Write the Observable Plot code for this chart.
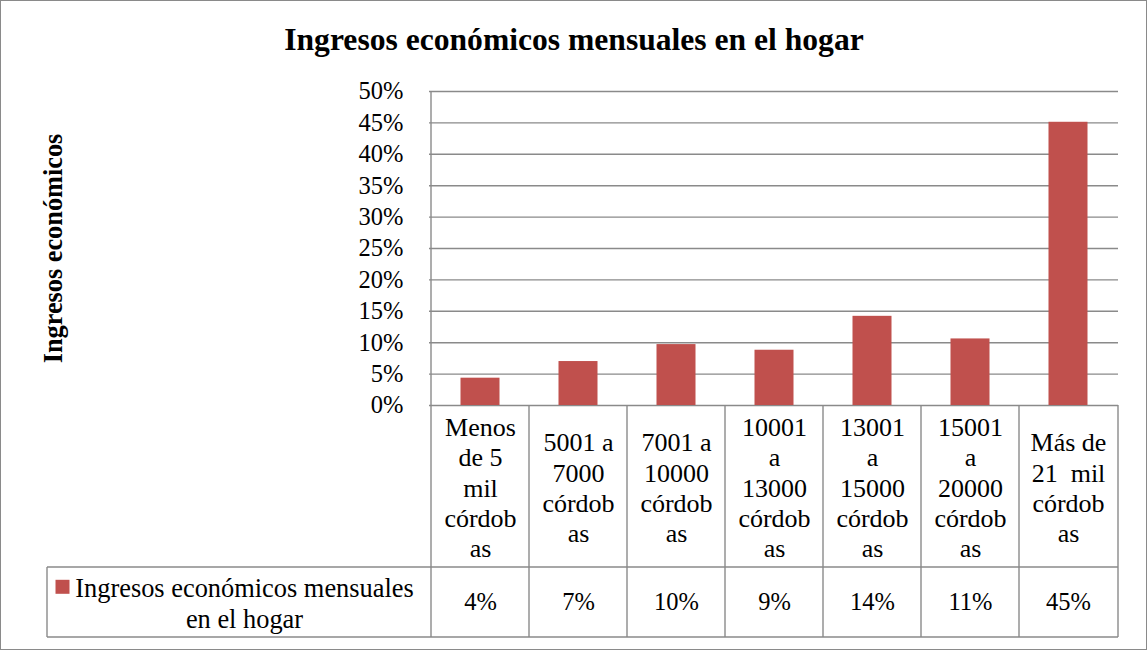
<!DOCTYPE html>
<html>
<head>
<meta charset="utf-8">
<script src="https://cdn.jsdelivr.net/npm/d3@7"></script>
<script src="https://cdn.jsdelivr.net/npm/@observablehq/plot@0.6"></script>
<style>
  html, body { margin: 0; padding: 0; background: #fff; }
  #page { position: relative; width: 1148px; height: 651px; overflow: hidden; background: #fff; }
  #border { position: absolute; left: 0; top: 0; width: 1145px; height: 648px; border: 1.5px solid #8a8a8a; pointer-events: none; }
  #title { position: absolute; left: 0; top: 24px; width: 1148px; text-align: center;
    font-family: "Liberation Serif", "Times New Roman", serif; font-weight: bold; font-size: 31.6px; line-height: 1; color: #000; }
  #chart { position: absolute; left: 0; top: 70px; }
  #chart svg text { white-space: pre; }
</style>
</head>
<body>
<div id="page">
  <div id="title">Ingresos económicos mensuales en el hogar</div>
  <div id="chart"></div>
  <div id="border"></div>
</div>
<script>
const categories = [
  "Menos\nde 5\nmil\ncórdob\nas",
  "5001 a\n7000\ncórdob\nas",
  "7001 a\n10000\ncórdob\nas",
  "10001\na\n13000\ncórdob\nas",
  "13001\na\n15000\ncórdob\nas",
  "15001\na\n20000\ncórdob\nas",
  "Más de\n21  mil\ncórdob\nas"
];
const values = [4.35, 7.0, 9.7, 8.8, 14.2, 10.6, 45.1];
const valueLabels = ["4%", "7%", "10%", "9%", "14%", "11%", "45%"];
const yTicks = [0, 5, 10, 15, 20, 25, 30, 35, 40, 45, 50];
const seriesName = "Ingresos económicos mensuales\nen el hogar";
const yLabel = "Ingresos económicos";

const data = categories.map((c, i) => ({cat: c, value: values[i], label: valueLabels[i]}));

const serif = "'Liberation Serif', 'Times New Roman', serif";
const gray = "#8a8a8a";
const red = "#C0504D";

// custom mark: the left axis line and the data-table grid, positioned from the band scale
function tableGrid(index, scales, values_, dims) {
  const x = scales.x;
  const {width, height, marginRight, marginTop, marginBottom} = dims;
  const x1 = width - marginRight;
  const yAxis = height - marginBottom;       // 0% baseline
  const yRow1 = yAxis + 162;                 // bottom of category row
  const yRow2 = yAxis + 232;                 // bottom of value row
  const legendLeft = 47;
  const g = d3.create("svg:g").attr("stroke", gray).attr("stroke-width", 1.4).attr("fill", "none");
  const bounds = categories.map(c => x(c)).concat([x1]);
  bounds.forEach((b, i) => {
    g.append("line").attr("x1", b).attr("x2", b)
      .attr("y1", i === 0 ? marginTop : yAxis).attr("y2", yRow2);
  });
  g.append("line").attr("x1", legendLeft).attr("x2", x1).attr("y1", yRow1).attr("y2", yRow1);
  g.append("line").attr("x1", legendLeft).attr("x2", x1).attr("y1", yRow2).attr("y2", yRow2);
  g.append("line").attr("x1", legendLeft).attr("x2", legendLeft).attr("y1", yRow1).attr("y2", yRow2);
  return g.node();
}

const plot = Plot.plot({
  width: 1148,
  height: 581,
  marginLeft: 429,
  marginRight: 30,
  marginTop: 21,
  marginBottom: 246,
  style: {fontFamily: serif, color: "#000", background: "transparent", overflow: "visible"},
  x: {type: "band", domain: categories, padding: 0, axis: null},
  y: {domain: [0, 50], axis: null},
  marks: [
    Plot.ruleY(yTicks, {stroke: gray, strokeWidth: 1.4}),
    Plot.axisY(yTicks, {
      tickSize: 0, tickPadding: 26, tickFormat: d => d + "%",
      fontSize: 24.5, fontFamily: serif, fill: "#000", label: null
    }),
    Plot.barY(data, {x: "cat", y: "value", fill: red, insetLeft: 29.5, insetRight: 29.5}),
    tableGrid,
    Plot.text(data, {
      x: "cat", text: "cat", frameAnchor: "bottom", dy: 81.5, textAnchor: "middle",
      lineAnchor: "middle", lineHeight: 1.165, fontSize: 26, fontFamily: serif, fill: "#000"
    }),
    Plot.text(data, {
      x: "cat", text: "label", frameAnchor: "bottom", dy: 197, textAnchor: "middle",
      lineAnchor: "middle", fontSize: 24.5, fontFamily: serif, fill: "#000"
    }),
    Plot.dot([seriesName], {
      frameAnchor: "bottom-left", dx: -367, dy: 181.3,
      symbol: "square", r: 7.9, fill: red, stroke: null
    }),
    Plot.text([seriesName], {
      text: d => d, frameAnchor: "bottom-left", dx: -185, dy: 197, textAnchor: "middle",
      lineAnchor: "middle", lineHeight: 1.165, fontSize: 26.4, fontFamily: serif, fill: "#000"
    }),
    Plot.text([yLabel], {
      text: d => d, frameAnchor: "left", dx: -386, rotate: -90, textAnchor: "middle",
      lineAnchor: "top", fontSize: 26.3, fontWeight: "bold", fontFamily: serif, fill: "#000"
    })
  ]
});

document.getElementById("chart").appendChild(plot);
</script>
</body>
</html>
